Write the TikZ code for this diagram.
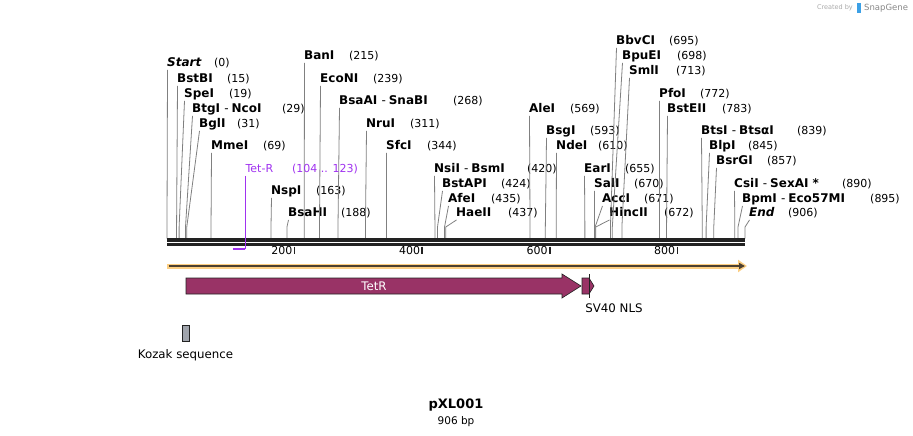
\documentclass[tikz,border=0pt]{standalone}
\usepackage{fontspec}
\setmainfont{DejaVu Sans}
\usetikzlibrary{positioning,arrows.meta}
\definecolor{cutgray}{RGB}{128,128,128}
\definecolor{axisblack}{RGB}{34,34,34}
\definecolor{tetrpurple}{RGB}{153,51,102}
\definecolor{primerviolet}{RGB}{160,50,240}
\definecolor{orfgold}{RGB}{252,206,130}
\definecolor{orfbrown}{RGB}{77,64,48}
\definecolor{kozakgray}{RGB}{160,164,172}
\definecolor{markgray}{RGB}{170,170,170}
\definecolor{markblue}{RGB}{60,160,230}

\begin{document}
\begin{tikzpicture}[
            x = 1pt, y = -1pt,
            enz/.style = {anchor=west, inner sep=0pt, text height=8pt, text depth=2.5pt,
                          font=\fontsize{12}{14}\selectfont\bfseries},
            sitenum/.style = {anchor=west, inner sep=0pt, text height=8pt, text depth=2.5pt,
                          font=\fontsize{11}{13}\selectfont},
            cutline/.style = {draw=cutgray, line width=0.8pt},
            tickmark/.style = {draw=axisblack, line width=1.6pt},
            feat/.style = {draw=axisblack, line width=0.6pt, fill=tetrpurple},
            lbl/.style = {inner sep=0pt, font=\fontsize{11.8}{14}\selectfont},
          ]
  \fill[white] (0,0) rectangle (913,436);
  \useasboundingbox (0,0) rectangle (913,436);

  % restriction sites: name / bp / label x / label y / number x
  \foreach \name/\bp/\lx/\ly/\nx [count=\i] in {
      {\itshape Start}/0/167/64/214,
      BstBI/15/177/80/227,
      SpeI/19/184/95/229,
      {BtgI \textmd{-}\hspace{3pt}NcoI}/29/192/110/282,
      BglI/31/199/125/237,
      MmeI/69/211/147/263,
      NspI/163/271/192/316,
      BsaHI/188/288/214/341,
      BanI/215/304/57/349,
      EcoNI/239/320/80/373,
      {BsaAI \textmd{-}\hspace{3pt}SnaBI}/268/339/102/453,
      NruI/311/366/125/410,
      SfcI/344/386/147/427,
      {NsiI \textmd{-}\hspace{3pt}BsmI}/420/434/170/527,
      BstAPI/424/442/185/501,
      AfeI/435/448/200/491,
      HaeII/437/456/214/508,
      AleI/569/529/110/570,
      BsgI/593/546/132/590,
      NdeI/610/556/147/598,
      EarI/655/584/170/625,
      SalI/670/594/185/634,
      AccI/671/602/200/644,
      HincII/672/609/214/664,
      BbvCI/695/616/42/669,
      BpuEI/698/622/57/677,
      SmlI/713/629/72/676,
      PfoI/772/659/95/700,
      BstEII/783/667/110/722,
      {BtsI \textmd{-}\hspace{3pt}BtsαI}/839/701/132/797,
      BlpI/845/709/147/748,
      BsrGI/857/716/162/767,
      {CsiI \textmd{-}\hspace{3pt}SexAI *}/890/734/185/842,
      {BpmI \textmd{-}\hspace{3pt}Eco57MI}/895/742/200/870,
      {\itshape End}/906/749/214/788%
    }{
    \node[enz] (e\i) at (\lx,\ly) {\name};
    \node[sitenum] (n\i) at (\nx,\ly) {(\bp)};
    \coordinate (k\i) at ({167+0.638*\bp},227);
    \coordinate (c\i) at ({167+0.638*\bp},238.5);
    \draw[cutline] ([xshift=0.5pt,yshift=-0.5pt]e\i.south west) -- (k\i) -- (c\i);
  }

  % sequence axis
  \coordinate (ori) at (167,240);
  \coordinate (fin) at (745,240);
  \draw[axisblack, line width=3.5pt] (ori) -- (fin);
  \draw[axisblack, line width=2.5pt] ([yshift=-4.7pt]ori) -- ([yshift=-4.7pt]fin);
  \foreach \t in {200,400,600,800} {
    \coordinate (t\t) at ({167+0.638*\t},246.5);
    \draw[tickmark] (t\t) -- ++(0,7);
    \node[sitenum, anchor=east] (tl\t) at ([xshift=-2pt,yshift=-5.5pt]t\t) {\t};
  }

  % primer
  \node[sitenum, text=primerviolet] (tetr) at (245.4,170) {Tet-R};
  \node[sitenum, text=primerviolet] (tetrpos) at (292,170) {(104 .. 123)};
  \coordinate (pend) at (245.4,248.5);
  \coordinate (pbeg) at (233.2,248.5);
  \draw[primerviolet, line width=1.2pt] ([yshift=-0.5pt]tetr.south west) -- (pend);
  \draw[primerviolet, line width=2pt] (pend) -- (pbeg);

  % open reading frame
  \coordinate (orf0) at (167,266);
  \coordinate (orf1) at (747,266);
  \draw[orfgold, line width=5pt, -{Triangle[length=9pt,width=12pt]}] (orf0) -- (orf1);
  \draw[orfbrown, line width=2pt, -{Triangle[length=6pt,width=6pt]}]
    ([xshift=1.5pt]orf0) -- ([xshift=-2pt]orf1);

  % features
  \draw[feat] (186,278) -- (562,278) -- (562,274) -- (581,286) -- (562,298)
    -- (562,294) -- (186,294) -- cycle;
  \node[lbl, text=white] (tetrlbl) at (374,286) {TetR};
  \draw[feat] (582,278) -- (589,278) -- (594,286) -- (589,294) -- (582,294) -- cycle;
  \draw[axisblack, line width=0.8pt] (589,274) -- (589,298);
  \node[lbl] (sv40) at (614,308) {SV40 NLS};
  \node[draw=axisblack, fill=kozakgray, line width=0.6pt, minimum width=7pt,
        minimum height=16pt, inner sep=0pt] (kozak) at (185.5,333) {};
  \node[lbl, below=8pt of kozak] (kozaklbl) {Kozak sequence};

  % title
  \node[inner sep=0pt, font=\fontsize{13}{15}\selectfont\bfseries] (title) at (456,405) {pXL001};
  \node[inner sep=0pt, below=5pt of title, font=\fontsize{10.5}{12}\selectfont] (size) {906 bp};

  % watermark
  \node[anchor=east, inner sep=0pt, text=markgray, font=\fontsize{6.5}{8}\selectfont] (made) at (853,8) {Created by};
  \fill[markblue] (857,3.5) rectangle (860.5,13);
  \node[anchor=west, inner sep=0pt, text=markgray!80!black, font=\fontsize{8.5}{10}\selectfont] (snap) at (864,8) {SnapGene};
\end{tikzpicture}
\end{document}
